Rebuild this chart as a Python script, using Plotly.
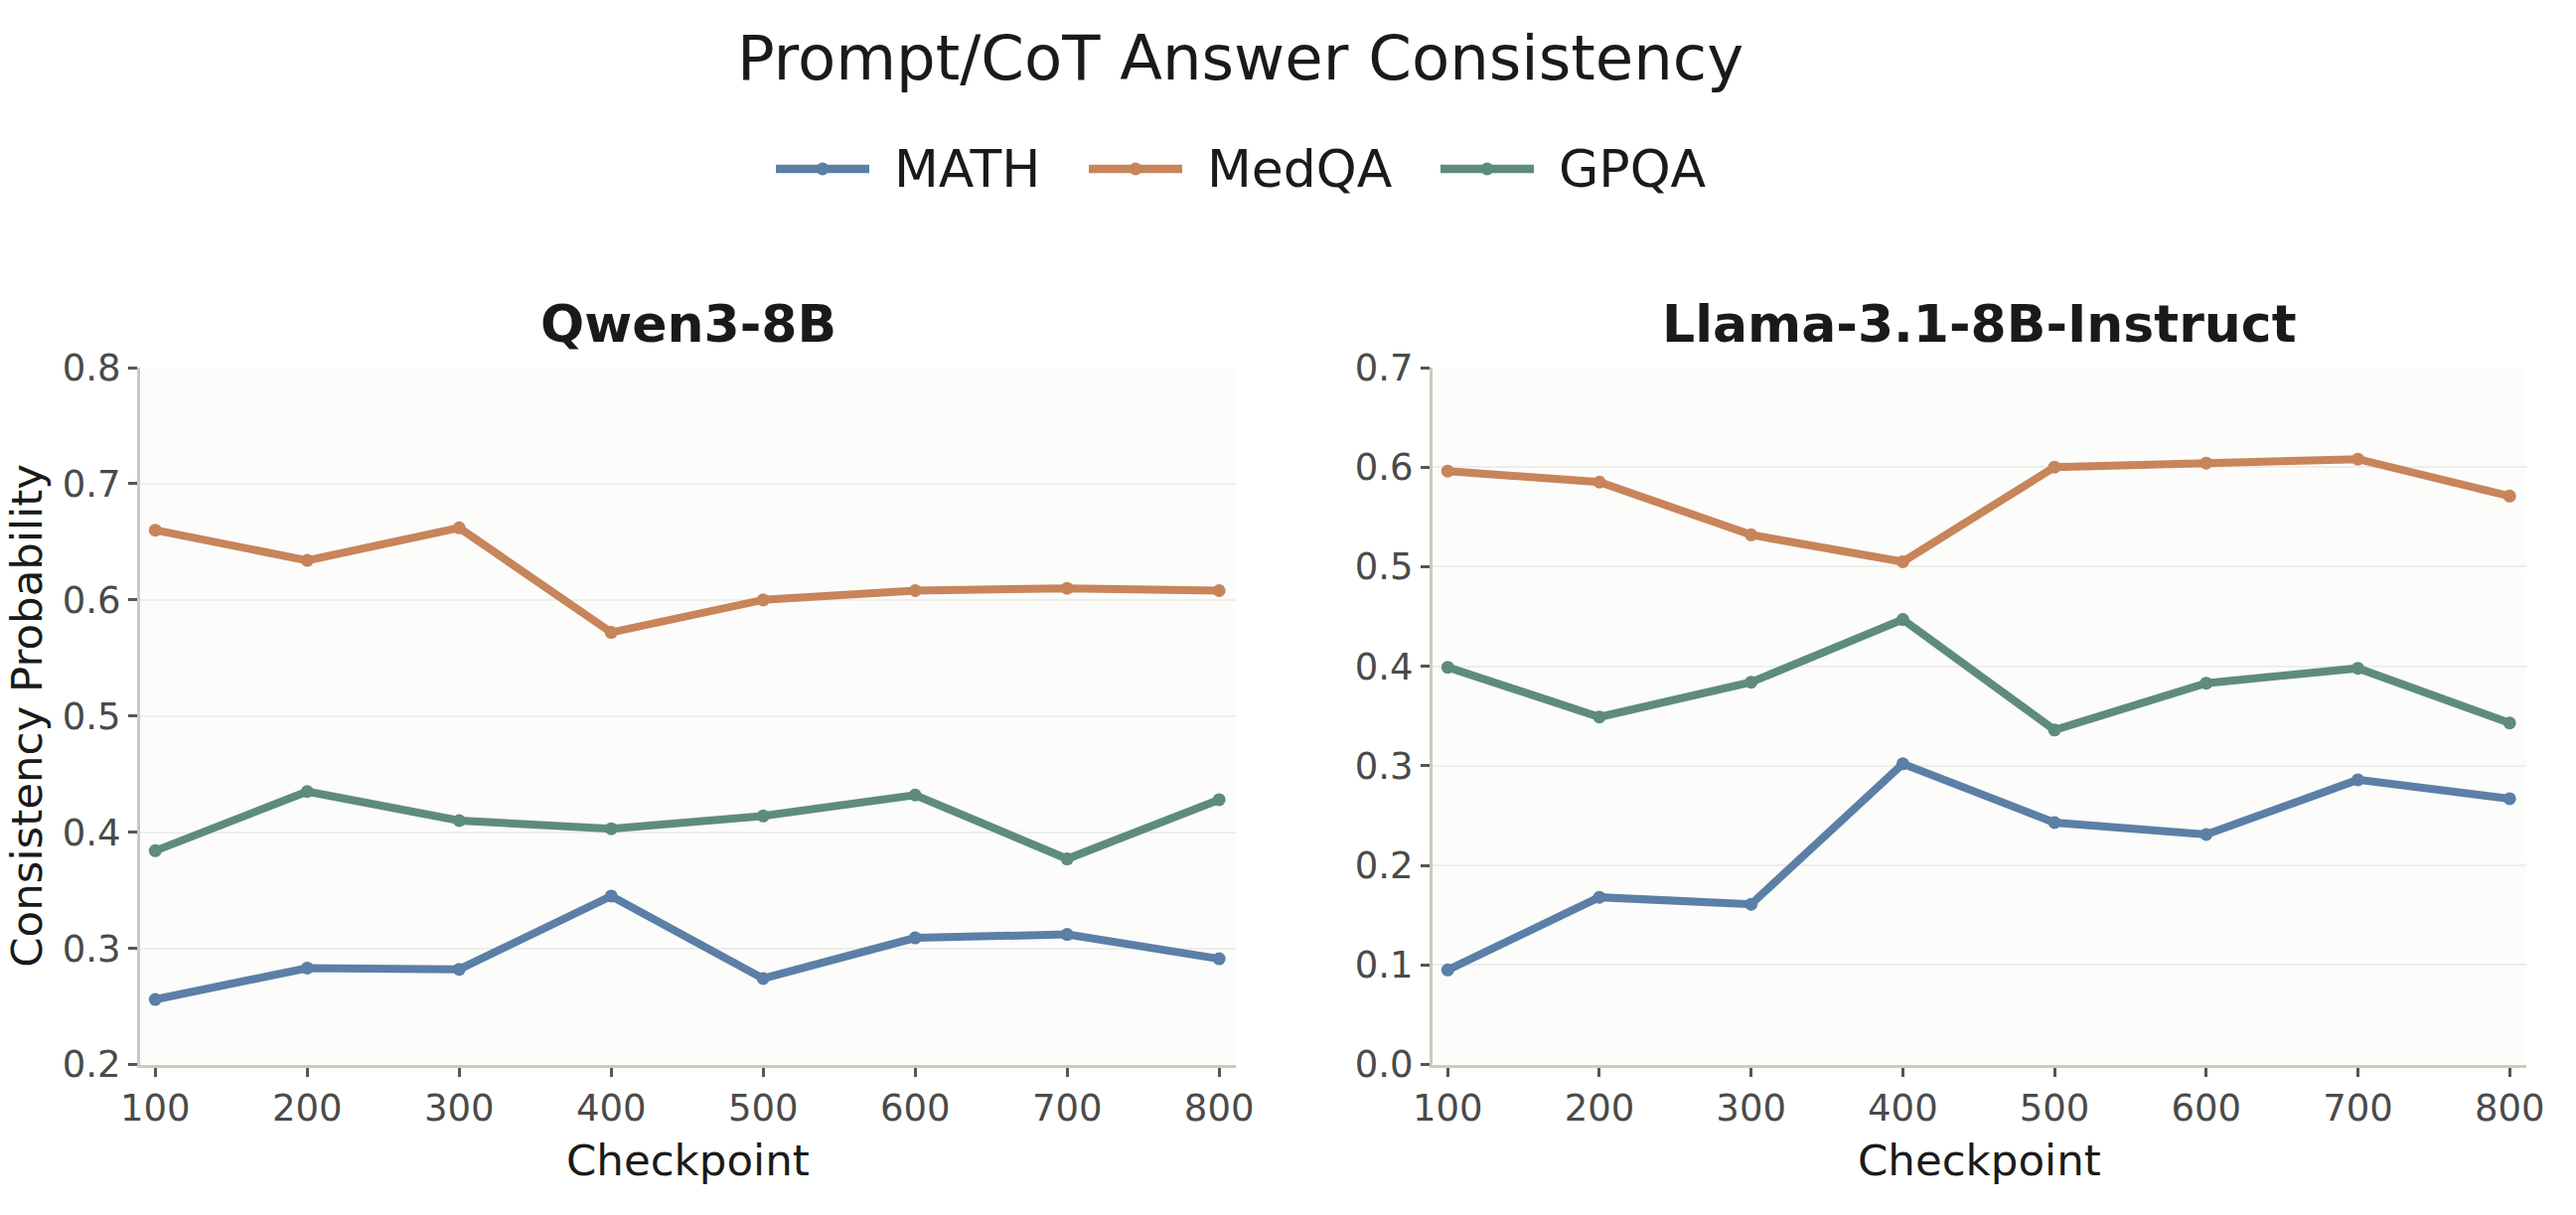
import plotly.graph_objects as go

checkpoints = [100, 200, 300, 400, 500, 600, 700, 800]
series_names = ["MATH", "MedQA", "GPQA"]
colors = {"MATH": "#5b7fa6", "MedQA": "#c8845a", "GPQA": "#5e8c7c"}

qwen_math = [0.256, 0.283, 0.282, 0.345, 0.274, 0.309, 0.312, 0.291]
qwen_medqa = [0.660, 0.634, 0.662, 0.572, 0.600, 0.608, 0.610, 0.608]
qwen_gpqa = [0.384, 0.435, 0.410, 0.403, 0.414, 0.432, 0.377, 0.428]

llama_math = [0.095, 0.168, 0.161, 0.302, 0.243, 0.231, 0.286, 0.267]
llama_medqa = [0.596, 0.585, 0.532, 0.505, 0.600, 0.604, 0.608, 0.571]
llama_gpqa = [0.399, 0.349, 0.384, 0.447, 0.336, 0.383, 0.398, 0.343]

panel_titles = ["Qwen3-8B", "Llama-3.1-8B-Instruct"]
y_ranges = [[0.2, 0.8], [0.0, 0.7]]
y_ticks = [[0.2, 0.3, 0.4, 0.5, 0.6, 0.7, 0.8], [0.0, 0.1, 0.2, 0.3, 0.4, 0.5, 0.6, 0.7]]

W, H = 2593, 1223
FONT = "DejaVu Sans"
x_domains = [[141 / W, 1244 / W], [1442 / W, 2543 / W]]
y_domain = [1 - 1071.5 / H, 1 - 370 / H]

fig = go.Figure()
panels = [
    {"MATH": qwen_math, "MedQA": qwen_medqa, "GPQA": qwen_gpqa},
    {"MATH": llama_math, "MedQA": llama_medqa, "GPQA": llama_gpqa},
]
for i, data in enumerate(panels):
    xa = "x" if i == 0 else "x2"
    ya = "y" if i == 0 else "y2"
    for name in series_names:
        fig.add_trace(go.Scatter(
            x=checkpoints, y=data[name], mode="lines+markers", name=name,
            showlegend=False,
            line=dict(color=colors[name], width=8),
            marker=dict(color=colors[name], size=13),
            xaxis=xa, yaxis=ya, cliponaxis=False,
        ))

axis_common = dict(
    showline=True, linecolor="#cdc9bd", linewidth=3,
    ticks="outside", ticklen=9, tickwidth=2.5, tickcolor="#555555",
    tickfont=dict(family=FONT, size=37, color="#4a4a4a"),
    zeroline=False, automargin=False,
)
for i in range(2):
    sx = "" if i == 0 else "2"
    fig.update_layout(**{
        f"xaxis{sx}": dict(domain=x_domains[i], range=[90, 811], tickvals=checkpoints,
                           showgrid=False, anchor=f"y{sx}", **axis_common),
        f"yaxis{sx}": dict(domain=y_domain, range=y_ranges[i], tickvals=y_ticks[i],
                           tickformat=".1f", showgrid=True, gridcolor="#eeeee9", gridwidth=2,
                           anchor=f"x{sx}", **axis_common),
    })

annotations = []
for i, t in enumerate(panel_titles):
    annotations.append(dict(
        text=f"<b>{t}</b>", x=(x_domains[i][0] + x_domains[i][1]) / 2, y=1 - 326 / H,
        xref="paper", yref="paper", xanchor="center", yanchor="middle", showarrow=False,
        font=dict(family=FONT, size=52, color="#1a1a1a"),
    ))
    annotations.append(dict(
        text="Checkpoint", x=(x_domains[i][0] + x_domains[i][1]) / 2, y=1 - 1168 / H,
        xref="paper", yref="paper", xanchor="center", yanchor="middle", showarrow=False,
        font=dict(family=FONT, size=43.5, color="#1a1a1a"),
    ))
annotations.append(dict(
    text="Consistency Probability", x=27 / W, y=(y_domain[0] + y_domain[1]) / 2,
    xref="paper", yref="paper", xanchor="center", yanchor="middle", showarrow=False,
    textangle=-90, font=dict(family=FONT, size=43.5, color="#1a1a1a"),
))
annotations.append(dict(
    text="Prompt/CoT Answer Consistency", x=1248 / W, y=1 - 58 / H,
    xref="paper", yref="paper", xanchor="center", yanchor="middle", showarrow=False,
    font=dict(family=FONT, size=62.5, color="#1a1a1a"),
))

# custom legend (long line symbol with a dot), positioned in pixels
legend_y = 170
legend_items = [("MATH", 781, 875, 898), ("MedQA", 1096, 1190, 1213), ("GPQA", 1450, 1544, 1567)]
shapes = []
for name, x0, x1, tx in legend_items:
    shapes.append(dict(type="line", xref="paper", yref="paper",
                       x0=x0 / W, x1=x1 / W, y0=1 - legend_y / H, y1=1 - legend_y / H,
                       line=dict(color=colors[name], width=8.5)))
    cx = (x0 + x1) / 2
    r = 6.5
    shapes.append(dict(type="circle", xref="paper", yref="paper",
                       x0=(cx - r) / W, x1=(cx + r) / W,
                       y0=1 - (legend_y + r) / H, y1=1 - (legend_y - r) / H,
                       fillcolor=colors[name], line=dict(width=0)))
    annotations.append(dict(
        text=name, x=tx / W, y=1 - legend_y / H, xref="paper", yref="paper",
        xanchor="left", yanchor="middle", showarrow=False,
        font=dict(family=FONT, size=52, color="#1a1a1a"),
    ))

fig.update_layout(
    width=W, height=H, autosize=False,
    margin=dict(l=0, r=0, t=0, b=0),
    paper_bgcolor="white", plot_bgcolor="#fcfcfa",
    font=dict(family=FONT, color="#1a1a1a"),
    annotations=annotations, shapes=shapes,
    showlegend=False,
)

fig.write_html("out.html")
